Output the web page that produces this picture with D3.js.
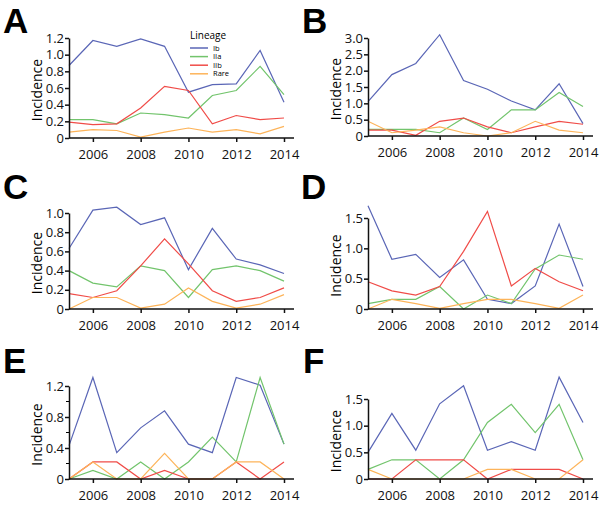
<!DOCTYPE html>
<html>
<head>
<meta charset="utf-8">
<script src="https://cdn.jsdelivr.net/npm/d3@7"></script>
<style>
  body { margin: 0; background: #fff; }
  .tick text { font-family: "Open Sans", sans-serif; font-size: 13px; fill: #111; }
  .panel-label { font-family: "Liberation Sans", Arial, sans-serif; font-weight: bold; font-size: 35px; }
  .ylab { font-family: "Open Sans", sans-serif; font-size: 14px; }
  .legend text { font-family: "Open Sans", sans-serif; font-size: 7.5px; }
</style>
</head>
<body>
<script>
// years on the x axis
var years = [2005, 2006, 2007, 2008, 2009, 2010, 2011, 2012, 2013, 2014];
var lineages = ["Ib", "IIa", "IIb", "Rare"];

// panel A
var aIb   = [0.87, 1.17, 1.10, 1.19, 1.10, 0.55, 0.64, 0.65, 1.05, 0.43];
var aIIa  = [0.22, 0.22, 0.17, 0.30, 0.28, 0.24, 0.51, 0.57, 0.86, 0.52];
var aIIb  = [0.19, 0.16, 0.17, 0.36, 0.62, 0.57, 0.17, 0.27, 0.22, 0.24];
var aRare = [0.07, 0.10, 0.09, 0.01, 0.07, 0.12, 0.07, 0.10, 0.05, 0.14];

// panel B
var bIb   = [1.05, 1.88, 2.22, 3.10, 1.70, 1.43, 1.07, 0.80, 1.60, 0.38];
var bIIa  = [0.20, 0.20, 0.20, 0.10, 0.55, 0.20, 0.80, 0.80, 1.33, 0.90];
var bIIb  = [0.18, 0.18, 0.02, 0.45, 0.55, 0.28, 0.10, 0.28, 0.45, 0.36];
var bRare = [0.45, 0.10, 0.18, 0.28, 0.10, 0.00, 0.10, 0.45, 0.18, 0.10];

// panel C
var cIb   = [0.63, 1.03, 1.06, 0.88, 0.95, 0.41, 0.84, 0.52, 0.46, 0.37];
var cIIa  = [0.40, 0.27, 0.23, 0.45, 0.40, 0.12, 0.41, 0.45, 0.40, 0.29];
var cIIb  = [0.16, 0.12, 0.19, 0.45, 0.73, 0.47, 0.19, 0.08, 0.12, 0.22];
var cRare = [0.00, 0.12, 0.12, 0.01, 0.05, 0.22, 0.08, 0.01, 0.05, 0.15];

// panel D
var dIb   = [1.70, 0.82, 0.90, 0.52, 0.81, 0.16, 0.09, 0.38, 1.40, 0.37];
var dIIa  = [0.09, 0.16, 0.16, 0.37, 0.00, 0.23, 0.09, 0.66, 0.89, 0.82];
var dIIb  = [0.45, 0.30, 0.23, 0.37, 0.95, 1.61, 0.38, 0.67, 0.45, 0.30];
var dRare = [0.00, 0.16, 0.09, 0.01, 0.09, 0.16, 0.16, 0.09, 0.01, 0.23];

// panel E
var eIb   = [0.43, 1.31, 0.34, 0.66, 0.88, 0.45, 0.34, 1.31, 1.21, 0.45];
var eIIa  = [0.00, 0.11, 0.00, 0.22, 0.00, 0.22, 0.54, 0.22, 1.31, 0.45];
var eIIb  = [0.00, 0.22, 0.22, 0.00, 0.11, 0.00, 0.00, 0.22, 0.00, 0.22];
var eRare = [0.00, 0.22, 0.00, 0.00, 0.33, 0.00, 0.00, 0.22, 0.22, 0.00];

// panel F
var fIb   = [0.50, 1.23, 0.54, 1.41, 1.75, 0.54, 0.70, 0.54, 1.91, 1.06];
var fIIa  = [0.18, 0.36, 0.36, 0.00, 0.36, 1.06, 1.40, 0.87, 1.40, 0.36];
var fIIb  = [0.00, 0.00, 0.36, 0.36, 0.36, 0.00, 0.18, 0.18, 0.18, 0.00];
var fRare = [0.18, 0.00, 0.00, 0.00, 0.00, 0.18, 0.18, 0.00, 0.00, 0.36];

// y axis ticks per panel
var aTicks = [0, 0.2, 0.4, 0.6, 0.8, 1.0, 1.2];
var bTicks = [0, 0.5, 1.0, 1.5, 2.0, 2.5, 3.0];
var cTicks = [0, 0.2, 0.4, 0.6, 0.8, 1.0];
var dTicks = [0, 0.5, 1.0, 1.5];
var eTicks = [0, 0.4, 0.8, 1.2];
var eMinor = [0.2, 0.6, 1.0];
var fTicks = [0, 0.5, 1.0, 1.5];

var color = d3.scaleOrdinal()
    .domain(lineages)
    .range(["#5a66b6", "#72c46c", "#f04c48", "#fdb45a"]);

var panels = [
  {label: "A", series: [aIb, aIIa, aIIb, aRare], ticks: aTicks, x0: 69, y0: 138, y1: 38, lx: 3, ly: 33},
  {label: "B", series: [bIb, bIIa, bIIb, bRare], ticks: bTicks, x0: 368, y0: 136, y1: 38, lx: 302, ly: 33},
  {label: "C", series: [cIb, cIIa, cIIb, cRare], ticks: cTicks, x0: 69, y0: 309, y1: 213, lx: 3, ly: 199},
  {label: "D", series: [dIb, dIIa, dIIb, dRare], ticks: dTicks, x0: 368, y0: 309, y1: 218, lx: 301, ly: 199},
  {label: "E", series: [eIb, eIIa, eIIb, eRare], ticks: eTicks, minor: eMinor, x0: 69, y0: 479, y1: 386, lx: 3, ly: 373},
  {label: "F", series: [fIb, fIIa, fIIb, fRare], ticks: fTicks, x0: 368, y0: 479, y1: 399, lx: 303, ly: 373}
];

var svg = d3.select("body").append("svg")
    .attr("width", 600)
    .attr("height", 519);

panels.forEach(function(p) {
  var xScale = d3.scaleLinear().domain([2005, 2014]).range([p.x0, p.x0 + 215]);
  var yMax = d3.max(p.ticks);
  var yScale = d3.scaleLinear().domain([0, yMax]).range([p.y0, p.y1]);

  var g = svg.append("g");

  // lines
  var line = d3.line()
      .x(function(d, i) { return xScale(years[i]); })
      .y(function(d) { return yScale(d); });

  g.selectAll(".series")
      .data(p.series)
    .enter().append("path")
      .attr("d", line)
      .attr("fill", "none")
      .attr("stroke", function(d, i) { return color(lineages[i]); })
      .attr("stroke-width", 1.2);

  // x-axis
  var xAxis = d3.axisBottom(xScale)
      .tickValues([2006, 2008, 2010, 2012, 2014])
      .tickFormat(d3.format("d"))
      .tickSize(4)
      .tickSizeOuter(0);
  var gx = g.append("g")
      .attr("transform", "translate(0," + p.y0 + ")")
      .call(xAxis);
  gx.select(".domain").attr("d", "M" + p.x0 + ",0H" + (p.x0 + 225));
  gx.selectAll(".tick text").attr("dy", "1.05em");

  // y-axis
  var yAxis = d3.axisLeft(yScale)
      .tickValues(p.ticks)
      .tickFormat(function(d) { return d === 0 ? "0" : d3.format(".1f")(d); })
      .tickSize(4)
      .tickSizeOuter(0);
  var gy = g.append("g")
      .attr("transform", "translate(" + p.x0 + ",0)")
      .call(yAxis);
  gy.selectAll(".tick text").attr("x", -5);

  if (p.minor) {
    gy.selectAll(".minor")
        .data(p.minor)
      .enter().append("line")
        .attr("x1", -3).attr("x2", 0)
        .attr("y1", function(d) { return yScale(d); })
        .attr("y2", function(d) { return yScale(d); })
        .attr("stroke", "#000");
  }

  g.selectAll(".domain, .tick line")
      .attr("stroke", "#111")
      .attr("stroke-width", 1.5);

  // y label
  g.append("text")
      .attr("class", "ylab")
      .attr("transform", "translate(" + (p.x0 - 27) + "," + ((p.y0 + p.y1) / 2 + 2) + ") rotate(-90)")
      .style("text-anchor", "middle")
      .text("Incidence");

  // panel letter
  svg.append("text")
      .attr("class", "panel-label")
      .attr("x", p.lx)
      .attr("y", p.ly)
      .text(p.label);
});

// legend in panel A
var legend = svg.append("g").attr("class", "legend");
legend.append("text")
    .attr("x", 190)
    .attr("y", 39)
    .style("font-size", "10px")
    .text("Lineage");
lineages.forEach(function(name, i) {
  var y = 48 + i * 8.6;
  legend.append("line")
      .attr("x1", 190).attr("x2", 208)
      .attr("y1", y).attr("y2", y)
      .attr("stroke", color(name))
      .attr("stroke-width", 1.5);
  legend.append("text")
      .attr("x", 213)
      .attr("y", y + 2.6)
      .text(name);
});
</script>
</body>
</html>
